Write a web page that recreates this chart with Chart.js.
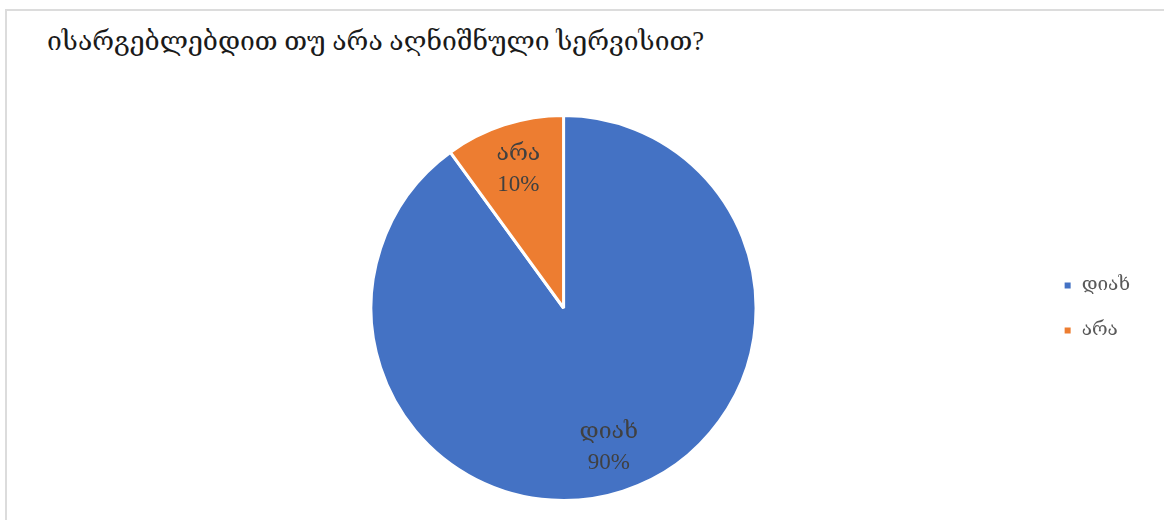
<!DOCTYPE html>
<html>
<head>
<meta charset="utf-8">
<script src="https://cdn.jsdelivr.net/npm/chart.js@4/dist/chart.umd.min.js"></script>
<style>
  html, body { margin: 0; padding: 0; background: #fff; overflow: hidden; }
  body { width: 1164px; height: 520px; position: relative; }
  .frame {
    position: absolute; left: 5px; top: 9px; width: 1200px; height: 560px;
    border: 2px solid #dcdcdc; box-sizing: border-box;
  }
  .title {
    position: absolute; left: 47px; top: 25px; margin: 0;
    font-family: 'Liberation Serif', 'DejaVu Serif', serif;
    font-size: 26.5px; font-weight: normal; color: #1a1a1a; white-space: nowrap;
  }
  #pie { position: absolute; left: 0; top: 0; }
</style>
</head>
<body>
<div class="frame"></div>
<h1 class="title">ისარგებლებდით თუ არა აღნიშნული სერვისით?</h1>
<canvas id="pie" width="1164" height="520"></canvas>
<script>
// პასუხები და მათი წილი
const answers = ["დიახ", "არა"]
const shares = [90, 10]
const sliceColors = ["#4472C4", "#ED7D31"]

const serif = "'Liberation Serif', 'DejaVu Serif', serif"

// წარწერები სექტორებში: სახელი და პროცენტი
const sliceLabels = {
  id: "sliceLabels",
  afterDatasetsDraw(chart) {
    const ctx = chart.ctx
    const meta = chart.getDatasetMeta(0)
    const total = shares.reduce((a, b) => a + b, 0)
    ctx.save()
    ctx.fillStyle = "#404040"
    ctx.font = "23px " + serif
    ctx.textAlign = "center"
    ctx.textBaseline = "middle"
    meta.data.forEach((arc, i) => {
      const mid = (arc.startAngle + arc.endAngle) / 2
      const r = arc.outerRadius * 0.76
      const x = arc.x + Math.cos(mid) * r
      const y = arc.y + Math.sin(mid) * r
      const pct = Math.round((shares[i] / total) * 100) + "%"
      ctx.fillText(answers[i], x, y - 15)
      ctx.fillText(pct, x, y + 16)
    })
    ctx.restore()
  },
}

new Chart(document.getElementById("pie"), {
  type: "pie",
  data: {
    labels: answers,
    datasets: [
      {
        data: shares,
        backgroundColor: sliceColors,
        borderColor: "#ffffff",
        borderWidth: 3,
      },
    ],
  },
  options: {
    responsive: false,
    animation: false,
    devicePixelRatio: 1,
    layout: {
      padding: { left: 90, right: 24, top: 114, bottom: 18 },
    },
    plugins: {
      tooltip: { enabled: false },
      legend: {
        position: "right",
        labels: {
          boxWidth: 9,
          boxHeight: 9,
          padding: 26,
          color: "#595959",
          font: { family: serif, size: 19 },
        },
      },
    },
  },
  plugins: [sliceLabels],
})
</script>
</body>
</html>
